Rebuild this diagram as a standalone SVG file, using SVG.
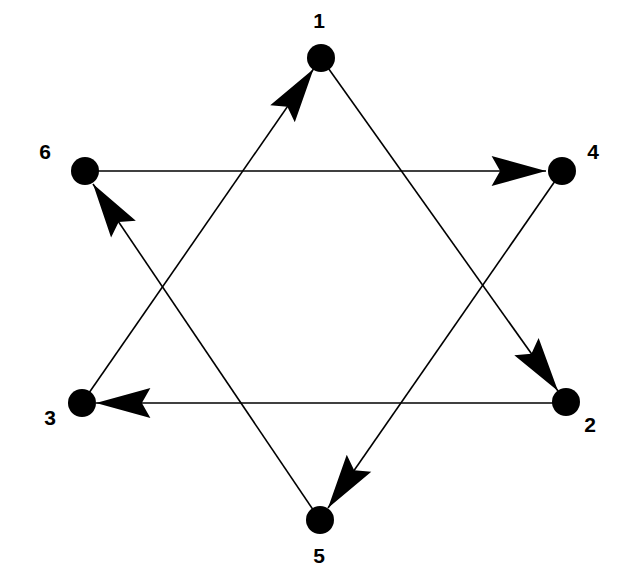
<svg xmlns="http://www.w3.org/2000/svg" width="640" height="572" viewBox="0 0 640 572">
<style>
.edge{stroke:#000;stroke-width:1.6;fill:none;marker-end:url(#arr)}
.node{fill:#000}
.lbl{font-family:"Liberation Sans",Arial,sans-serif;font-size:21px;font-weight:bold;fill:#000;text-anchor:middle}
</style>
<defs>
<marker id="arr" markerUnits="userSpaceOnUse" markerWidth="60" markerHeight="32" viewBox="-52 -15 54 30" refX="0" refY="0" orient="auto">
<path d="M0,0 L-51,-14 L-43,0 L-51,14 Z" fill="#000"/>
</marker>
</defs>
<rect width="640" height="572" fill="#fff"/>
<g id="connectors">
<line class="edge" x1="321" y1="58" x2="558" y2="391"/>
<line class="edge" x1="566" y1="403" x2="96" y2="403"/>
<line class="edge" x1="82" y1="403" x2="313.5" y2="69"/>
<line class="edge" x1="85" y1="171" x2="546" y2="171"/>
<line class="edge" x1="562" y1="171" x2="328" y2="508"/>
<line class="edge" x1="320" y1="520" x2="93" y2="184"/>
</g>
<g id="n1"><circle class="node" cx="321" cy="58" r="14"/><text class="lbl" x="319" y="28">1</text></g>
<g id="n4"><circle class="node" cx="562" cy="171" r="14"/><text class="lbl" x="593" y="159">4</text></g>
<g id="n2"><circle class="node" cx="566" cy="402" r="14"/><text class="lbl" x="590" y="432">2</text></g>
<g id="n5"><circle class="node" cx="320" cy="520" r="14"/><text class="lbl" x="319" y="563" font-weight="normal">5</text></g>
<g id="n3"><circle class="node" cx="82" cy="403" r="14"/><text class="lbl" x="50" y="425">3</text></g>
<g id="n6"><circle class="node" cx="85" cy="171" r="14"/><text class="lbl" x="45" y="159">6</text></g>
</svg>
